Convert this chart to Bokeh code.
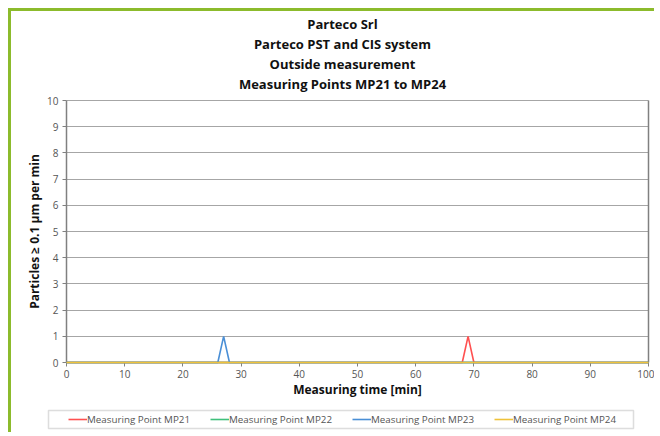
from bokeh.plotting import figure
from bokeh.models import (ColumnDataSource, Legend, LegendItem, Range1d, LinearAxis,
                          SingleIntervalTicker, FixedTicker, BoxAnnotation, Grid, Title)
from bokeh.embed import file_html
from bokeh.resources import INLINE

# ---- data ----
title_lines = ["Parteco Srl", "Parteco PST and CIS system",
               "Outside measurement", "Measuring Points MP21 to MP24"]
times = [0, 26, 27, 28, 68, 69, 70, 100]
mp21 = [0, 0, 0, 0, 0, 1, 0, 0]
mp22 = [0, 0, 0, 0, 0, 0, 0, 0]
mp23 = [0, 0, 1, 0, 0, 0, 0, 0]
mp24 = [0, 0, 0, 0, 0, 0, 0, 0]
series_names = ["Measuring Point MP21", "Measuring Point MP22",
                "Measuring Point MP23", "Measuring Point MP24"]
series_vals = [mp21, mp22, mp23, mp24]
x_bounds = (0, 100)
y_bounds = (0, 10)
colors = ["#ff5050", "#40c07c", "#4a8fd6", "#efc23a"]

FONT = "Open Sans"

# ---- layout (pixels in the picture) ----
ORG = 11                      # canvas origin after margin + green border
AX_L, AX_R = 66, 648          # x = 0 / x = 100
AX_B, AX_T = 362, 100         # y = 0 / y = 10
FR_L, FR_R, FR_T, FR_B = 27, 657, 92, 432
W, H = 646, 424
pxx = (AX_R - AX_L) / (x_bounds[1] - x_bounds[0])
pxy = (AX_B - AX_T) / (y_bounds[1] - y_bounds[0])
def dx(px): return x_bounds[0] + (px - AX_L) / pxx
def dy(py): return y_bounds[0] + (AX_B - py) / pxy

p = figure(width=W, height=H, output_backend="svg", toolbar_location=None,
           x_range=Range1d(dx(FR_L), dx(FR_R)), y_range=Range1d(dy(FR_B), dy(FR_T)),
           min_border_left=FR_L - ORG, min_border_right=0,
           min_border_top=FR_T - ORG, min_border_bottom=ORG + H - FR_B)
p.margin = (8, 0, 0, 8)
p.styles = {"border-top": "3px solid #8cbb2c", "border-left": "3px solid #8cbb2c"}
p.background_fill_color = "white"
p.border_fill_color = "white"
p.outline_line_color = None

for name, vals, c in zip(series_names, series_vals, colors):
    src = ColumnDataSource(dict(x=times, y=vals))
    r = p.line("x", "y", source=src, line_color=c, line_width=1.6)
    r.level = "overlay"

# axes fixed at the data origin
p.xaxis.ticker = SingleIntervalTicker(interval=10)
p.yaxis.ticker = SingleIntervalTicker(interval=1)
p.xaxis.fixed_location = y_bounds[0]
p.yaxis.fixed_location = x_bounds[0]
p.xaxis.bounds = x_bounds
p.yaxis.bounds = y_bounds
for ax in (p.xaxis[0], p.yaxis[0]):
    ax.axis_line_color = "#808080"
    ax.axis_line_width = 1.5
    ax.major_tick_line_color = "#808080"
    ax.major_tick_in = 0
    ax.major_tick_out = 4
    ax.minor_tick_line_color = None
    ax.major_label_text_font = FONT
    ax.major_label_text_font_size = "10px"
    ax.major_label_text_color = "#555555"
    ax.axis_label_text_font = FONT
    ax.axis_label_text_font_size = "12px"
    ax.axis_label_text_font_style = "bold"
    ax.axis_label_text_color = "#111111"
p.xaxis.axis_label = "Measuring time [min]"
p.yaxis.axis_label = "Particles \u2265 0.1 \u00b5m per min"
p.xaxis.axis_label_standoff = 0
p.yaxis.axis_label_standoff = 1
p.xaxis.major_label_standoff = 3
p.yaxis.major_label_standoff = 4

# right border of the plot area
rax = LinearAxis(fixed_location=x_bounds[1], bounds=y_bounds,
                 ticker=FixedTicker(ticks=[]),
                 axis_line_color="#808080", axis_line_width=1.5,
                 major_tick_line_color=None, minor_tick_line_color=None)
p.add_layout(rax, "right")

p.xgrid.grid_line_color = None
p.ygrid.grid_line_color = "#a6a6a6"
p.ygrid.grid_line_width = 1.2
if "cross_bounds" in Grid.properties():
    p.ygrid.cross_bounds = x_bounds

# title: one centred Title per line (first added sits closest to the plot)
p.title.visible = False
for t in reversed(title_lines):
    p.add_layout(Title(text=t, align="center", text_font=FONT,
                       text_font_size="13px", text_font_style="bold",
                       text_color="#111111", text_line_height=1.0,
                       standoff=0), "above")

# legend box + legend
box = BoxAnnotation(left=dx(48), right=dx(633), top=dy(410), bottom=dy(428),
                    fill_color="white", fill_alpha=1.0,
                    line_color="#909090", line_width=1.5)
p.add_layout(box)

line_renderers = [r for r in p.renderers if hasattr(r, "glyph")]
legend = Legend(items=[LegendItem(label=n, renderers=[r]) for n, r in
                       zip(series_names, line_renderers)],
                orientation="horizontal", location=(68 - FR_L, FR_B - 426),
                label_text_font=FONT, label_text_font_size="9.8px",
                label_text_color="#555555",
                glyph_width=19, glyph_height=14, label_height=14,
                label_standoff=0, label_width=104, spacing=19,
                padding=0, margin=0,
                border_line_color=None, background_fill_alpha=0)
p.add_layout(legend, "center")

open("out.html", "w").write(file_html(p, INLINE))
